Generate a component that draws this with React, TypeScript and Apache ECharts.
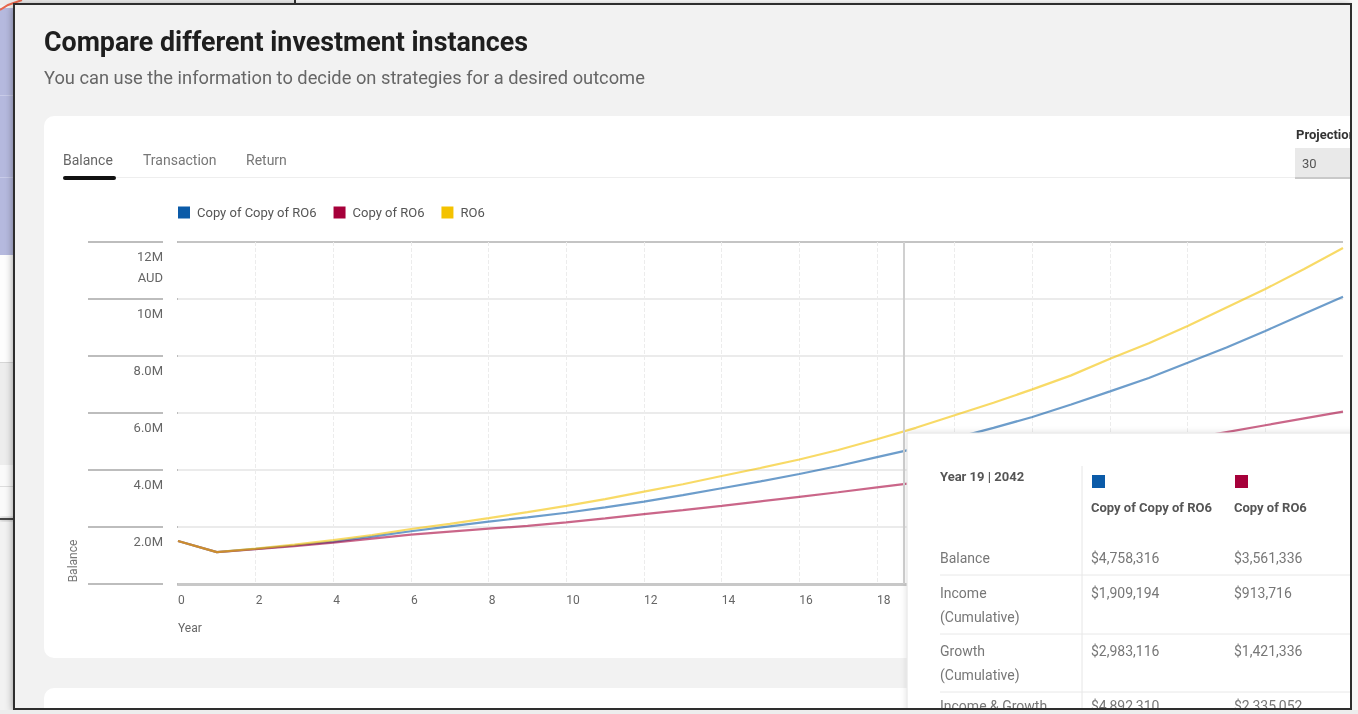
import { useEffect, useRef } from "react";
import * as echarts from "echarts";

// ---- data ----
const years = [0, 1, 2, 3, 4, 5, 6, 7, 8, 9, 10, 11, 12, 13, 14, 15, 16, 17, 18, 19, 20, 21, 22, 23, 24, 25, 26, 27, 28, 29, 30];
// balances in millions AUD
const copyOfCopyOfRO6 = [1.51, 1.12, 1.23, 1.35, 1.48, 1.66, 1.85, 2.02, 2.19, 2.34, 2.5, 2.69, 2.89, 3.12, 3.36, 3.6, 3.86, 4.14, 4.45, 4.76, 5.12, 5.48, 5.86, 6.3, 6.76, 7.23, 7.76, 8.3, 8.88, 9.48, 10.08];
const copyOfRO6 = [1.51, 1.12, 1.22, 1.33, 1.45, 1.59, 1.73, 1.84, 1.94, 2.04, 2.16, 2.3, 2.45, 2.59, 2.74, 2.9, 3.06, 3.22, 3.39, 3.56, 3.76, 3.97, 4.18, 4.4, 4.62, 4.85, 5.09, 5.33, 5.57, 5.81, 6.05];
const ro6 = [1.51, 1.12, 1.24, 1.38, 1.54, 1.72, 1.93, 2.11, 2.31, 2.52, 2.74, 2.98, 3.24, 3.5, 3.79, 4.07, 4.37, 4.7, 5.08, 5.48, 5.92, 6.36, 6.83, 7.32, 7.9, 8.45, 9.05, 9.7, 10.35, 11.05, 11.79];
const seriesNames = ["Copy of Copy of RO6", "Copy of RO6", "RO6"];
const seriesColors = ["#0b5ba8", "#a6003a", "#f4c200"];
const seriesValues = [copyOfCopyOfRO6, copyOfRO6, ro6];
const pointerYear = 18.7;
const lastVisibleXLabel = 18;

const tabs = ["Balance", "Transaction", "Return"];
const tooltipTitle = "Year 19 | 2042";
const tooltipRowLabels = [["Balance"], ["Income", "(Cumulative)"], ["Growth", "(Cumulative)"], ["Income & Growth"]];
const tooltipCopyOfCopy = ["$4,758,316", "$1,909,194", "$2,983,116", "$4,892,310"];
const tooltipCopyOf = ["$3,561,336", "$913,716", "$1,421,336", "$2,335,052"];

const FONT = "Roboto, 'Noto Sans', sans-serif";

function txt(text: string, x: number, y: number, size: number, color: string, weight: string = "normal", z = 0, extra: any = {}) {
  return {
    type: "text",
    z,
    x,
    y,
    silent: true,
    ...extra,
    style: { text, x: 0, y: 0, fill: color, fontSize: size, fontWeight: weight, fontFamily: FONT, verticalAlign: "middle", align: "left", ...(extra.style || {}) },
  };
}
function rect(x: number, y: number, w: number, h: number, fill: string, z = 0, extra: any = {}) {
  return { type: "rect", z, silent: true, shape: { x, y, width: w, height: h, r: extra.r || 0 }, style: { fill, ...(extra.style || {}) } };
}
function hline(x1: number, x2: number, y: number, color: string, z = 0, w = 1) {
  return { type: "line", z, silent: true, shape: { x1, y1: y, x2, y2: y }, style: { stroke: color, lineWidth: w } };
}

export default function App() {
  const ref = useRef<HTMLDivElement>(null);
  useEffect(() => {
    if (!ref.current) return;
    const chart = echarts.init(ref.current, undefined, { renderer: "svg" });

    const TZ = 100;
    const rowY = [558, 593, 651, 706];
    const rowY2 = [0, 617, 675, 0];
    const dividers = [575, 634, 692];

    const tooltipEls: any[] = [
      { type: "rect", z: TZ, silent: true, shape: { x: 907, y: 433, width: 470, height: 300 }, style: { fill: "#ffffff", stroke: "#e2e2e2", lineWidth: 1, shadowBlur: 6, shadowColor: "rgba(0,0,0,0.12)" } },
      txt(tooltipTitle, 940, 476, 13, "#555", "bold", TZ + 1),
      { type: "line", z: TZ + 1, silent: true, shape: { x1: 1082, y1: 466, x2: 1082, y2: 714 }, style: { stroke: "#e6e6e6", lineWidth: 1 } },
      rect(1092, 475, 13, 13, seriesColors[0], TZ + 1),
      rect(1235, 475, 13, 13, seriesColors[1], TZ + 1),
      txt(seriesNames[0], 1091, 507, 13, "#555", "bold", TZ + 1),
      txt(seriesNames[1], 1234, 507, 13, "#555", "bold", TZ + 1),
    ];
    tooltipRowLabels.forEach((lines, i) => {
      tooltipEls.push(txt(lines[0], 940, rowY[i], 14, "#777", "normal", TZ + 1));
      if (lines[1]) tooltipEls.push(txt(lines[1], 940, rowY2[i], 14, "#777", "normal", TZ + 1));
      tooltipEls.push(txt(tooltipCopyOfCopy[i], 1091, rowY[i], 14, "#777", "normal", TZ + 1));
      tooltipEls.push(txt(tooltipCopyOf[i], 1234, rowY[i], 14, "#777", "normal", TZ + 1));
    });
    dividers.forEach((y) => tooltipEls.push(hline(940, 1360, y, "#e8e8e8", TZ + 1)));

    const BZ = -30;
    const background: any[] = [
      rect(0, 0, 1358, 714, "#f2f2f2", BZ),
      rect(0, 0, 295, 5, "#ececec", BZ),
      rect(295, 0, 1063, 5, "#fbfbfb", BZ),
      rect(294, 0, 2, 5, "#333", BZ),
      rect(0, 8, 14, 247, "#b5b9de", BZ),
      rect(0, 95, 14, 1, "#c8cbe8", BZ),
      rect(0, 177, 14, 1, "#c8cbe8", BZ),
      rect(0, 255, 14, 107, "#fdfdfd", BZ),
      rect(0, 362, 14, 103, "#ededed", BZ),
      rect(0, 362, 14, 1, "#d6d6d6", BZ),
      rect(0, 465, 14, 53, "#fafafa", BZ),
      rect(0, 486, 14, 1, "#dddddd", BZ),
      rect(0, 518, 14, 2, "#444", BZ, { style: { shadowBlur: 4, shadowColor: "rgba(0,0,0,0.4)" } }),
      { type: "polyline", z: BZ, silent: true, shape: { points: [[0, 10], [8, 5], [22, 0]] }, style: { stroke: "#e8674d", lineWidth: 2, fill: null } },
      // window
      { type: "rect", z: BZ + 1, silent: true, shape: { x: 14, y: 4, width: 1337, height: 705 }, style: { fill: "#f2f2f2", shadowBlur: 8, shadowColor: "rgba(0,0,0,0.5)", shadowOffsetY: 2 } },
      // cards
      rect(44, 116, 1330, 542, "#ffffff", BZ + 2, { r: 10 }),
      rect(44, 688, 1330, 60, "#ffffff", BZ + 2, { r: 10 }),
    ];

    const header: any[] = [
      txt("Compare different investment instances", 44, 42, 26.8, "#1e1e1e", "bold"),
      txt("You can use the information to decide on strategies for a desired outcome", 44, 77, 18.3, "#666"),
      txt(tabs[0], 63, 160, 14, "#666"),
      txt(tabs[1], 143, 160, 14, "#777"),
      txt(tabs[2], 246, 160, 14, "#777"),
      hline(63, 1360, 177.5, "#eeeeee"),
      rect(63, 176, 53, 4, "#111", 1, { r: 2 }),
      txt("Projection", 1296, 134, 13, "#333", "bold"),
      rect(1295, 148, 70, 30, "#e9e9e9", 1),
      rect(1295, 177, 70, 2, "#c9c9c9", 1),
      txt("30", 1302, 163, 13, "#555", "normal", 2),
      txt("Balance", 73, 561, 12, "#777", "normal", 1, { rotation: Math.PI / 2, style: { align: "center" } }),
      txt("Year", 178, 628, 12, "#666"),
      // gap between the left tick marks and the plot area
      rect(163, 236, 14, 354, "#ffffff", 50),
    ];

    const frame: any[] = [
      rect(1352, 0, 10, 714, "#f7f7f7", 150),
      rect(0, 710, 1358, 10, "#ededed", 150),
      { type: "rect", z: 160, silent: true, shape: { x: 14, y: 4, width: 1337, height: 705 }, style: { fill: null, stroke: "#2e2e2e", lineWidth: 2 } },
    ];

    const option: any = {
      animation: false,
      textStyle: { fontFamily: FONT },
      grid: { left: 178, right: 15, top: 242, bottom: 130, containLabel: false },
      legend: {
        left: 178,
        top: 206,
        padding: 0,
        icon: "rect",
        itemWidth: 12,
        itemHeight: 12,
        itemGap: 17,
        selectedMode: false,
        textStyle: { color: "#555", fontSize: 13, fontFamily: FONT, padding: [0, 0, 0, 2] },
        data: seriesNames,
      },
      xAxis: {
        type: "value",
        min: 0,
        max: 30,
        interval: 2,
        axisLine: { show: true, lineStyle: { color: "#c8c8c8", width: 3 } },
        axisTick: { show: false },
        axisLabel: {
          align: "left",
          margin: 10,
          color: "#666",
          fontSize: 12,
          fontFamily: FONT,
          formatter: (v: number) => (v > lastVisibleXLabel ? "" : String(v)),
        },
        splitLine: { show: true, showMinLine: false, showMaxLine: false, lineStyle: { color: "#ececec", type: "dashed", width: 1 } },
      },
      yAxis: {
        type: "value",
        min: 0,
        max: 12,
        interval: 2,
        axisLine: { show: false },
        axisTick: { show: true, length: 90, lineStyle: { color: "#bdbdbd", width: 2 } },
        axisLabel: {
          margin: 15,
          align: "right",
          verticalAlign: "top",
          padding: [7, 0, 0, 0],
          color: "#666",
          fontSize: 13,
          lineHeight: 14,
          fontFamily: FONT,
          formatter: (v: number) => (v === 0 ? "" : v === 12 ? "{a|12M}\n{b|AUD}" : v >= 10 ? v + "M" : v.toFixed(1) + "M"),
          rich: {
            a: { fontSize: 13, color: "#666", lineHeight: 14, fontFamily: FONT },
            b: { fontSize: 13, color: "#666", lineHeight: 28, fontFamily: FONT },
          },
        },
        splitLine: {
          show: true,
          lineStyle: { color: ["#e0e0e0", "#ebebeb", "#ebebeb", "#ebebeb", "#ebebeb", "#ebebeb", "#c4c4c4"], width: 2 },
        },
      },
      series: seriesNames.map((name, si) => ({
        name,
        type: "line",
        symbol: "none",
        showSymbol: false,
        color: seriesColors[si],
        itemStyle: { color: seriesColors[si] },
        lineStyle: { color: seriesColors[si], width: 2.2, opacity: 0.6 },
        data: years.map((yr, i) => [yr, seriesValues[si][i]]),
        ...(si === 0
          ? {
              markLine: {
                silent: true,
                symbol: ["none", "none"],
                label: { show: false },
                lineStyle: { color: "#d0d0d0", width: 2, type: "solid", opacity: 1 },
                data: [{ xAxis: pointerYear }],
              },
            }
          : {}),
      })),
      graphic: { elements: [...background, ...header, ...tooltipEls, ...frame] },
    };
    chart.setOption(option);
    return () => chart.dispose();
  }, []);
  return <div ref={ref} style={{ position: "fixed", left: 0, top: 0, width: 1358, height: 714 }} />;
}
